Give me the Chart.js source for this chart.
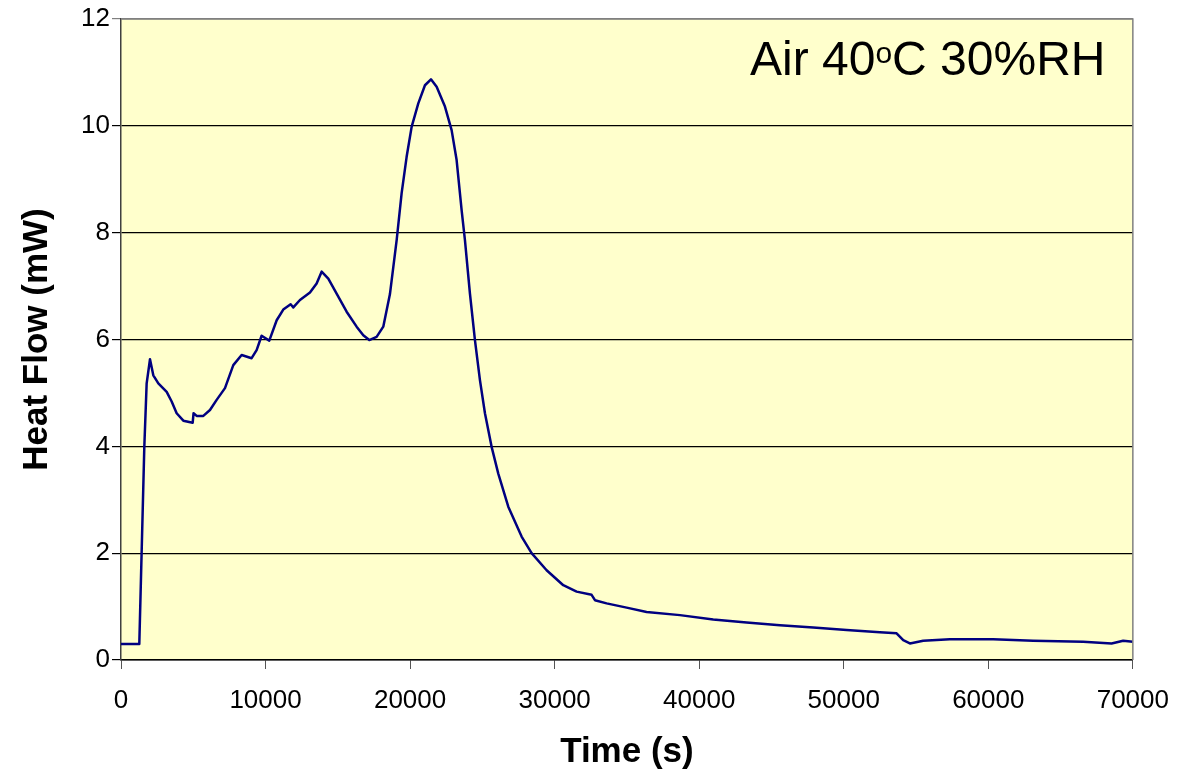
<!DOCTYPE html>
<html>
<head>
<meta charset="utf-8">
<script src="https://cdn.jsdelivr.net/npm/chart.js@4/dist/chart.umd.min.js"></script>
<style>
  body { margin: 0; background: #fff; }
</style>
</head>
<body>
<canvas id="heatChart" width="1185" height="773"></canvas>
<script>
// time (s) and heat flow (mW)
const timeS = [0, 1266, 1614, 1775, 2006, 2236, 2582, 3160, 3505, 3850, 4312, 4958, 5020, 5234, 5695,
  6156, 6617, 7193, 7769, 8345, 9037, 9382, 9728, 10258, 10770, 11226, 11737, 11920, 12380, 13073,
  13534, 13880, 14341, 14917, 15609, 16300, 16761, 17176, 17684, 18145, 18606, 19070, 19415, 19760,
  20106, 20567, 21028, 21443, 21836, 22411, 22872, 23218, 23564, 23794, 24140, 24486, 24832, 25178,
  25639, 26100, 26792, 27714, 28406, 29444, 30597, 31520, 32557, 32788, 33595, 34980, 36360, 38667,
  40970, 43280, 45585, 47890, 50197, 52500, 53655, 54115, 54575, 55497, 57340, 60340, 63104, 66565,
  68530, 69330, 70000];
const heatFlow = [0.30, 0.30, 4.0, 5.18, 5.63, 5.33, 5.18, 5.02, 4.84, 4.62, 4.48, 4.44, 4.62, 4.57, 4.57,
  4.68, 4.87, 5.09, 5.52, 5.71, 5.65, 5.80, 6.07, 5.98, 6.36, 6.56, 6.66, 6.60, 6.74, 6.88,
  7.05, 7.27, 7.14, 6.86, 6.52, 6.24, 6.08, 5.99, 6.05, 6.24, 6.85, 7.86, 8.74, 9.42,
  9.98, 10.42, 10.76, 10.87, 10.73, 10.36, 9.92, 9.36, 8.42, 7.86, 6.86, 5.99, 5.24, 4.62,
  3.99, 3.49, 2.87, 2.31, 2.00, 1.68, 1.40, 1.28, 1.22, 1.12, 1.06, 0.98, 0.90, 0.84,
  0.76, 0.70, 0.65, 0.61, 0.56, 0.52, 0.50, 0.37, 0.31, 0.36, 0.39, 0.39, 0.36, 0.34,
  0.31, 0.36, 0.34];
const xTicks = [0, 10000, 20000, 30000, 40000, 50000, 60000, 70000];
const yTicks = [0, 2, 4, 6, 8, 10, 12];

const FONT = "'Liberation Sans', Arial, sans-serif";

// yellow plot background + gray frame on top/right
const plotBg = {
    id: 'plotBg',
    beforeDraw(chart) {
        const { ctx, chartArea: a } = chart;
        ctx.save();
        ctx.fillStyle = '#FFFFCC';
        ctx.fillRect(a.left, a.top, a.right - a.left, a.bottom - a.top);
        ctx.restore();
    },
    afterDraw(chart) {
        const { ctx, chartArea: a } = chart;
        ctx.save();
        ctx.strokeStyle = '#808080';
        ctx.lineWidth = 1.5;
        ctx.beginPath();
        ctx.moveTo(a.left, a.top);
        ctx.lineTo(a.right, a.top);
        ctx.lineTo(a.right, a.bottom);
        ctx.stroke();
        ctx.restore();
    }
};

// "Air 40°C 30%RH" label with superscript o
const condLabel = {
    id: 'condLabel',
    afterDraw(chart) {
        const ctx = chart.ctx;
        ctx.save();
        ctx.fillStyle = '#000';
        ctx.textBaseline = 'alphabetic';
        ctx.textAlign = 'left';
        let x = 750;
        const base = 75;
        ctx.font = '48px ' + FONT;
        ctx.fillText('Air 40', x, base);
        x += ctx.measureText('Air 40').width;
        ctx.font = '30px ' + FONT;
        ctx.fillText('o', x, base - 12);
        x += ctx.measureText('o').width;
        ctx.font = '48px ' + FONT;
        ctx.fillText('C 30%RH', x, base);
        ctx.restore();
    }
};

const ctx = document.getElementById('heatChart').getContext('2d');
new Chart(ctx, {
    type: 'line',
    data: {
        datasets: [{
            data: timeS.map((t, i) => ({ x: t, y: heatFlow[i] })),
            borderColor: '#000080',
            borderWidth: 2.5,
            borderJoinStyle: 'round',
            pointRadius: 0,
            tension: 0,
            fill: false
        }]
    },
    options: {
        responsive: false,
        animation: false,
        layout: { padding: { top: 19, right: 52, left: 0, bottom: 0 } },
        plugins: {
            legend: { display: false },
            tooltip: { enabled: false }
        },
        scales: {
            x: {
                type: 'linear',
                min: 0,
                max: 70000,
                afterBuildTicks: s => { s.ticks = xTicks.map(v => ({ value: v })); },
                afterFit: s => { s.height = 113; },
                ticks: {
                    callback: v => String(v),
                    font: { family: FONT, size: 26 },
                    color: '#000',
                    padding: 16,
                    maxRotation: 0
                },
                grid: { drawOnChartArea: false, tickLength: 9, color: '#555' },
                border: { color: '#000', width: 1.5 },
                title: {
                    display: true,
                    text: 'Time (s)',
                    font: { family: FONT, size: 35, weight: 'bold' },
                    color: '#000',
                    padding: { top: 0, bottom: 0 }
                }
            },
            y: {
                min: 0,
                max: 12,
                afterBuildTicks: s => { s.ticks = yTicks.map(v => ({ value: v })); },
                afterFit: s => { s.width = 121; },
                ticks: {
                    font: { family: FONT, size: 26 },
                    color: '#000',
                    padding: 2
                },
                grid: {
                    tickLength: 9,
                    lineWidth: 1.2,
                    color: c => (c.tick && c.tick.value === 12) ? '#808080' : '#000'
                },
                border: { color: '#404040', width: 1.5 },
                title: {
                    display: true,
                    text: 'Heat Flow (mW)',
                    font: { family: FONT, size: 35, weight: 'bold' },
                    color: '#000',
                    padding: { top: 16, bottom: 0 }
                }
            }
        }
    },
    plugins: [plotBg, condLabel]
});
</script>
</body>
</html>
